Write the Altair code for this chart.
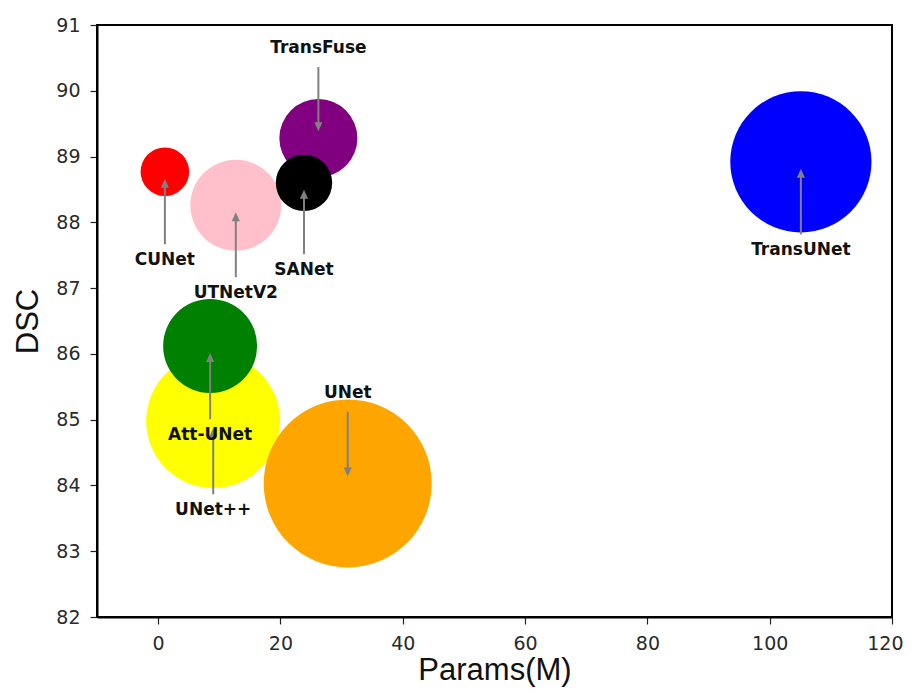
import math
import altair as alt
import pandas as pd

# Data (drawing order: bottom to top)
models = ["UNet++", "UNet", "UTNetV2", "TransFuse", "SANet", "CUNet", "Att-UNet", "TransUNet"]
params = [9.0, 31.0, 12.7, 26.2, 23.85, 1.1, 8.5, 105.1]          # Params(M)
dsc = [84.98, 84.03, 88.26, 89.28, 88.60, 88.77, 86.12, 88.92]     # DSC
bubble = [14100, 22170, 6500, 4780, 2500, 1855, 6940, 15660]       # bubble size (relative)
colors = ["#FFFF00", "#FFA500", "#FFC0CB", "#800080", "#000000", "#FF0000", "#008000", "#0000FF"]
label_y = [83.63, 85.41, 86.93, 90.65, 87.28, 87.43, 84.77, 87.58]  # annotation text positions (DSC units)

x_ticks = [0, 20, 40, 60, 80, 100, 120]
y_ticks = [82, 83, 84, 85, 86, 87, 88, 89, 90, 91]

df = pd.DataFrame({
    "model": models,
    "params": params,
    "dsc": dsc,
    "bubble": bubble,
    "color": colors,
    "label_y": label_y,
    "order": list(range(len(models))),
})

x_axis = alt.Axis(values=x_ticks, title="Params(M)", grid=False, labelFlush=True,
                  labelFlushOffset=11,
                  labelPadding=10, titleY=62, titleBaseline="alphabetic")
y_axis = alt.Axis(values=y_ticks, title="DSC", grid=False, labelPadding=10,
                  titleX=-60, titleY=296, titleBaseline="alphabetic", titleAngle=270)
x_scale = alt.Scale(domain=[-10, 120], nice=False, zero=False)
y_scale = alt.Scale(domain=[82, 91], nice=False, zero=False)


def X(field):
    return alt.X(field, type="quantitative", scale=x_scale, axis=x_axis)


def Y(field):
    return alt.Y(field, type="quantitative", scale=y_scale, axis=y_axis)


base = alt.Chart(df)

max_b = max(bubble)
bubbles = base.mark_circle(opacity=1).encode(
    x=X("params"),
    y=Y("dsc"),
    size=alt.Size("bubble:Q",
                  scale=alt.Scale(type="linear", domain=[0, max_b], range=[0, max_b * 4 / math.pi]),
                  legend=None),
    color=alt.Color("color:N", scale=None),
    order=alt.Order("order:Q"),
)

arrow_base = base.transform_calculate(
    sgn="datum.dsc > datum.label_y ? 1 : -1"
).transform_calculate(
    tail="datum.label_y + datum.sgn * (datum.sgn > 0 ? 0.236 : 0.29)",
    tip="datum.dsc - datum.sgn * 0.106",
).transform_calculate(
    rend="datum.tip - datum.sgn * 0.07"
)

shafts = arrow_base.mark_rule(color="#808080", strokeWidth=2).encode(
    x=X("params"),
    y=Y("tail"),
    y2="rend:Q",
)

heads_up = arrow_base.transform_filter("datum.sgn > 0").mark_point(
    shape="M0,0L-0.45,1L0.45,1Z", filled=True, size=324, color="#808080", opacity=1, strokeWidth=0
).encode(x=X("params"), y=Y("tip"))

heads_down = arrow_base.transform_filter("datum.sgn < 0").mark_point(
    shape="M0,0L-0.45,-1L0.45,-1Z", filled=True, size=324, color="#808080", opacity=1, strokeWidth=0
).encode(x=X("params"), y=Y("tip"))

labels = base.mark_text(
    font="DejaVu Sans", fontWeight="bold", fontSize=17, color="#111111",
    align="center", baseline="middle"
).encode(
    x=X("params"),
    y=Y("label_y"),
    text="model:N",
)

chart = alt.layer(bubbles, shafts, heads_up, heads_down, labels).properties(
    width=795,
    height=592,
    autosize=alt.AutoSizeParams(type="none"),
    padding={"left": 89, "top": 17, "right": 12, "bottom": 70},
    background="white",
).configure_view(
    stroke="black", strokeWidth=2
).configure_axis(
    domainColor="black", domainWidth=2,
    tickColor="#222222", tickSize=7, tickWidth=1.2,
    labelFont="DejaVu Sans", labelFontSize=19, labelColor="#2a2a2a",
    labelOverlap=False,
    titleFont="Liberation Sans", titleFontSize=31, titleFontWeight="normal", titleColor="#111111",
)

chart.save("out.html", embed_options={"renderer": "svg", "actions": False})
